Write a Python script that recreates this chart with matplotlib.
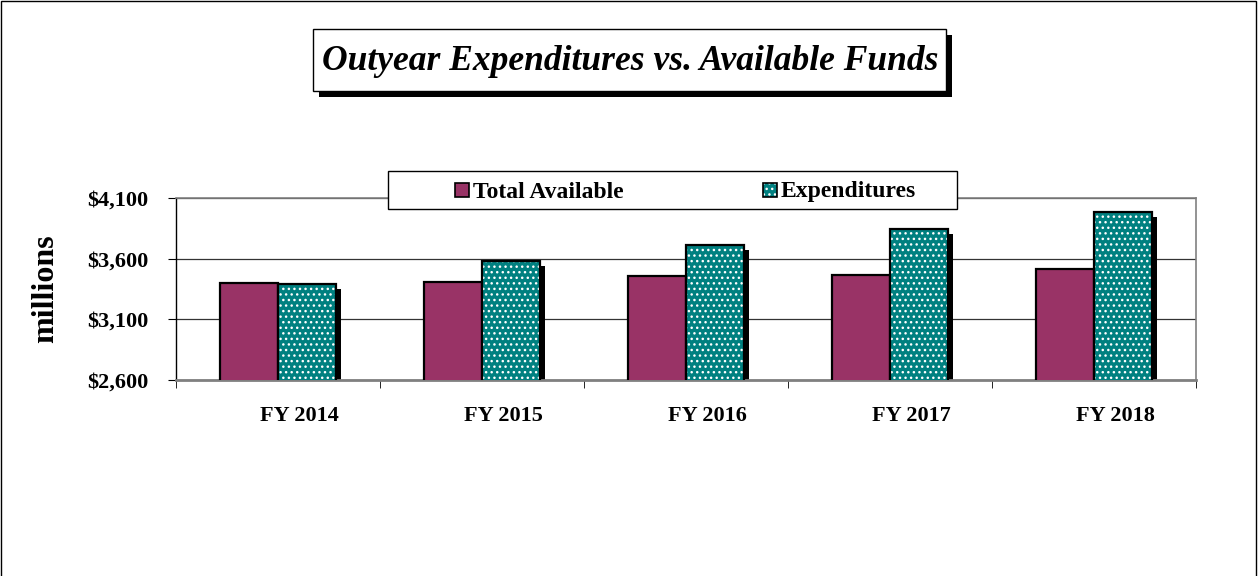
import matplotlib
matplotlib.use("Agg")
import matplotlib.pyplot as plt
import matplotlib.transforms as mtransforms
from matplotlib.patches import Rectangle
from matplotlib.ticker import FuncFormatter, FixedLocator
import numpy as np

# chart data
years = ["FY 2014", "FY 2015", "FY 2016", "FY 2017", "FY 2018"]
total_available = [3400, 3410, 3455, 3465, 3515]
expenditures = [3395, 3580, 3715, 3845, 3985]
series_names = ["Total Available", "Expenditures"]

plt.rcParams["font.family"] = ["Liberation Serif", "DejaVu Serif"]
plt.rcParams["font.weight"] = "bold"

W, H = 1258, 576
fig = plt.figure(figsize=(W / 100, H / 100), dpi=100)

def fx(px):
    return px / W

def fy(py):
    return 1 - py / H

def box(x0, y0, x1, y1, **kw):
    # rectangle given in pixel corners (top-left origin)
    r = Rectangle((fx(x0), fy(y1)), fx(x1 - x0), fy(y0) - fy(y1), transform=fig.transFigure, **kw)
    fig.patches.append(r)
    return r

purple = "#993366"
teal = "#008080"

# outer border
box(1, 1, 1256, 578, fill=False, edgecolor="black", lw=1)

# title box with shadow
box(319, 35, 952, 97, facecolor="black", edgecolor="none")
box(313, 29, 946, 91, facecolor="white", edgecolor="black", lw=1)
fig.text(fx(630), fy(61), "Outyear Expenditures vs. Available Funds", ha="center", va="center",
         fontsize=25.6, fontstyle="italic", fontweight="bold")

ax = fig.add_axes([fx(176), fy(380), fx(1020), fy(198) - fy(380)])

x = np.arange(len(years))
bw = 0.285

ax.bar(x - bw / 2, total_available, bw, color=purple, edgecolor="black", lw=1.6, zorder=3)

# shadow behind expenditures
dx = 5 / 204
dy = 5 * 1500 / 182
ax.bar(x + bw / 2 + dx, np.array(expenditures) - dy, bw, color="black", edgecolor="none", zorder=2)
ax.bar(x + bw / 2, expenditures, bw, color=teal, edgecolor="white", hatch="...", lw=0, zorder=3)
ax.bar(x + bw / 2, expenditures, bw, fill=False, edgecolor="black", lw=1.6, zorder=4)

ax.set_xlim(-0.5, len(years) - 0.5)
ax.set_ylim(2600, 4100)
ax.set_yticks([2600, 3100, 3600, 4100])
ax.yaxis.set_major_formatter(FuncFormatter(lambda v, p: "${:,.0f}".format(v)))
ax.yaxis.grid(True, color="#333333", lw=0.9, zorder=1)
ax.set_axisbelow(True)

ax.set_xticks(x)
ax.set_xticklabels(years)
ax.xaxis.set_minor_locator(FixedLocator(np.arange(-0.5, len(years), 1.0)))
ax.tick_params(axis="x", which="major", length=0, pad=19, labelsize=16)
ax.tick_params(axis="x", which="minor", length=6, direction="out", color="black")
ax.tick_params(axis="y", length=6, direction="out", labelsize=16, pad=14)

shift = mtransforms.ScaledTranslation(21 / 100, 0, fig.dpi_scale_trans)
for lab in ax.get_xticklabels():
    lab.set_transform(lab.get_transform() + shift)

for s in ["top", "right"]:
    ax.spines[s].set_color("#808080")
    ax.spines[s].set_linewidth(1.2)
ax.spines["bottom"].set_color("#808080")
ax.spines["bottom"].set_linewidth(2)
ax.spines["left"].set_color("black")
ax.spines["left"].set_linewidth(1)

fig.text(fx(46), fy(289), "millions", rotation=90, ha="center", va="center",
         fontsize=23, fontweight="bold")

# legend
box(388, 171, 957, 209, facecolor="white", edgecolor="black", lw=1, zorder=5)
box(455, 183, 469, 197, facecolor=purple, edgecolor="black", lw=1.2, zorder=6)
box(763, 183, 777, 197, facecolor=teal, edgecolor="white", hatch="...", lw=0, zorder=6)
box(763, 183, 777, 197, fill=False, edgecolor="black", lw=1.2, zorder=7)
fig.text(fx(473), fy(197.5), series_names[0], ha="left", va="baseline", fontsize=17, zorder=8)
fig.text(fx(781), fy(197.5), series_names[1], ha="left", va="baseline", fontsize=17, zorder=8)

fig.savefig("out.png", dpi=100)
